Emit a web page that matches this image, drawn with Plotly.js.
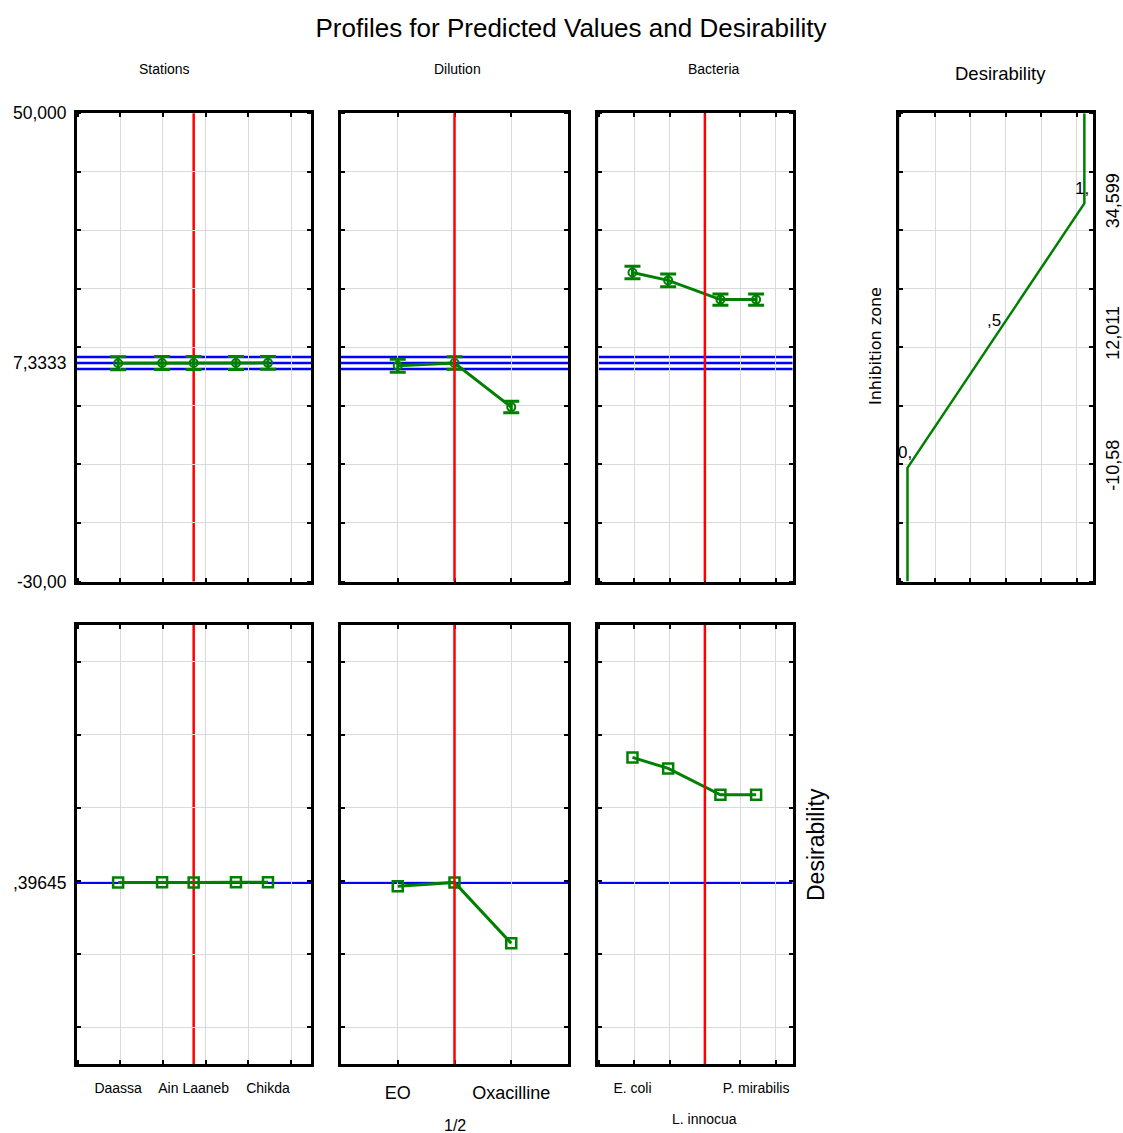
<!DOCTYPE html>
<html>
<head>
<meta charset="utf-8">
<script src="https://cdn.plot.ly/plotly-3.0.1.min.js"></script>
<style>html,body{margin:0;padding:0;background:#fff;}#chart{width:1123px;height:1133px;}</style>
</head>
<body>
<div id="chart"></div>
<script>
// ---------------- DATA ----------------
const stationX      = [0.95, 1.98, 2.72, 3.71, 4.46];
const stationLabelX = [0.95, 2.72, 4.46];
const stationLabels = ['Daassa', 'Ain Laaneb', 'Chikda'];
const stationPred   = [7.30, 7.34, 7.3333, 7.33, 7.36];
const stationErr    = [1.10, 1.10, 1.10, 1.10, 1.10];
const stationDes    = [0.396, 0.397, 0.39645, 0.3965, 0.397];
const stationCurrent = 2.72;

const dilutionX      = [1, 2, 3];
const dilutionLabels = ['EO', '', 'Oxacilline'];
const dilutionRow2   = ['1/2'];
const dilutionRow2X  = [2];
const dilutionPred   = [6.86, 7.3333, -0.20];
const dilutionErr    = [1.12, 1.08, 0.98];
const dilutionDes    = [0.386, 0.39645, 0.230];
const dilutionCurrent = 2;

const bacteriaX      = [0.95, 1.96, 3.44, 4.45];
const bacteriaLabelX = [0.95, 4.45];
const bacteriaLabels = ['E. coli', 'P. mirabilis'];
const bacteriaRow2   = ['L. innocua'];
const bacteriaRow2X  = [3.0];
const bacteriaPred   = [22.80, 21.45, 18.17, 18.17];
const bacteriaErr    = [1.05, 1.10, 0.95, 0.95];
const bacteriaDes    = [0.738, 0.708, 0.636, 0.636];
const bacteriaCurrent = 3.0;

const meanInhib = 7.3333;
const ciLow     = 6.29;
const ciHigh    = 8.37;
const meanDes   = 0.39645;

const inhibTickVals = [-30, 7.3333, 50];
const inhibTickText = ['-30,00', '7,3333', '50,000'];
const desTickVals   = [0.39645];
const desTickText   = [',39645'];

// desirability function: inhibition zone -> desirability
const desFnInhib = [-30, -10.58, 12.011, 34.599, 50];
const desFnValue = [0, 0, 0.5, 1, 1];
const desFnTickVals = [-10.58, 12.011, 34.599];
const desFnTickText = ['-10,58', '12,011', '34,599'];
const desFnLabelInhib = [-10.58, 12.011, 34.599];
const desFnLabelValue = [0, 0.5, 1];
const desFnLabelText  = ['0,', ',5', '1,'];

// ---------------- LAYOUT HELPERS ----------------
const W = 1123, H = 1133;
const fx = p => p / W;
const fy = p => 1 - p / H;
const FN = "'Liberation Sans', Arial, sans-serif";
const FR = "'Liberation Sans', Arial, sans-serif";
const GREEN = '#008000', BLUE = '#0000ff', RED = '#ff0000', GRID = '#dadada';

const colX = [[77, 311], [341, 568], [597.5, 792.5], [898.5, 1092.5]];
const rowTop = [fy(581.5), fy(113.3)];
const rowBot = [fy(1064), fy(625)];

function baseAxis(dom, range) {
  return {
    domain: [fx(dom[0]), fx(dom[1])], range: range, autorange: false, fixedrange: true,
    showline: true, linecolor: '#000', linewidth: 3, mirror: 'allticks',
    zeroline: false, showgrid: false, ticks: '',
    tickfont: {family: FN, size: 14, color: '#000'}
  };
}
function minorGrid(tick0, dtick) {
  return {tick0: tick0, dtick: dtick, showgrid: true, gridcolor: GRID, gridwidth: 1,
          ticks: 'inside', ticklen: 4, tickwidth: 2, tickcolor: '#000'};
}
const stRange = [-0.013, 5.468];
const baRange = [-0.04, 5.48];
const diRange = [0, 4];
const inhRange = [-30, 50];
const desRange = [-0.1, 1.1];

function stationX_axis(dom, labels) {
  return Object.assign(baseAxis(dom, stRange), {
    tickmode: 'array', tickvals: stationLabelX, ticktext: stationLabels,
    showticklabels: labels, ticklabelstandoff: 9,
    tickfont: {family: FN, size: 14, color: '#000'},
    minor: minorGrid(0, 1)
  });
}
function bacteriaX_axis(dom, labels) {
  return Object.assign(baseAxis(dom, baRange), {
    tickmode: 'array', tickvals: bacteriaLabelX, ticktext: bacteriaLabels,
    showticklabels: labels, ticklabelstandoff: 9,
    tickfont: {family: FN, size: 14, color: '#000'},
    minor: minorGrid(0, 1)
  });
}
function dilutionX_axis(dom, labels) {
  return Object.assign(baseAxis(dom, diRange), {
    tickmode: 'array', tickvals: dilutionX, ticktext: dilutionLabels,
    showticklabels: labels, showgrid: true, gridcolor: GRID, gridwidth: 1,
    ticks: 'inside', ticklen: 4, tickwidth: 2, tickcolor: '#000',
    ticklabelstandoff: 10, tickfont: {family: FN, size: 18, color: '#000'}
  });
}
function inhibY(anchor, labels) {
  return Object.assign(baseAxis([0, 0], inhRange), {
    domain: rowTop, anchor: anchor,
    tickmode: 'array', tickvals: inhibTickVals, ticktext: inhibTickText,
    showticklabels: labels, ticklabelstandoff: 4,
    tickfont: {family: FN, size: 17.5, color: '#000'},
    minor: minorGrid(0, 10)
  });
}
function desY(anchor, labels) {
  return Object.assign(baseAxis([0, 0], desRange), {
    domain: rowBot, anchor: anchor,
    tickmode: 'array', tickvals: desTickVals, ticktext: desTickText,
    showticklabels: labels, ticklabelstandoff: 4,
    tickfont: {family: FN, size: 17.5, color: '#000'},
    minor: minorGrid(0, 0.2)
  });
}

const layout = {
  width: W, height: H,
  margin: {l: 0, r: 0, t: 0, b: 0, pad: 0},
  paper_bgcolor: '#fff', plot_bgcolor: '#fff',
  showlegend: false,
  title: {text: 'Profiles for Predicted Values and Desirability',
          x: fx(571), y: fy(28), xref: 'paper', yref: 'container',
          xanchor: 'center', yanchor: 'middle',
          font: {family: FN, size: 26, color: '#000'}},
  xaxis:  Object.assign(stationX_axis(colX[0], false), {anchor: 'y'}),
  yaxis:  inhibY('x', true),
  xaxis2: Object.assign(dilutionX_axis(colX[1], false), {anchor: 'y2'}),
  yaxis2: inhibY('x2', false),
  xaxis3: Object.assign(bacteriaX_axis(colX[2], false), {anchor: 'y3'}),
  yaxis3: inhibY('x3', false),
  xaxis4: Object.assign(stationX_axis(colX[0], true), {anchor: 'y4'}),
  yaxis4: desY('x4', true),
  xaxis5: Object.assign(dilutionX_axis(colX[1], true), {anchor: 'y5'}),
  yaxis5: desY('x5', false),
  xaxis6: Object.assign(bacteriaX_axis(colX[2], true), {anchor: 'y6'}),
  yaxis6: desY('x6', false),
  xaxis7: Object.assign(baseAxis(colX[3], [-0.0508, 1.046]), {
    anchor: 'y7', tickmode: 'linear', tick0: 0.156, dtick: 0.2, showticklabels: false,
    showgrid: true, gridcolor: GRID, ticks: 'inside', ticklen: 4, tickwidth: 2, tickcolor: '#000'
  }),
  yaxis7: Object.assign(baseAxis([0, 0], inhRange), {
    domain: rowTop, anchor: 'x7', side: 'right',
    tickmode: 'array', tickvals: desFnTickVals, ticktext: desFnTickText,
    tickangle: -90, ticklabelstandoff: 2,
    tickfont: {family: FR, size: 18, color: '#000'},
    minor: minorGrid(0, 10)
  }),
  shapes: [],
  annotations: []
};

// mean and confidence lines (beneath the traces)
[['x', 'y'], ['x2', 'y2'], ['x3', 'y3']].forEach(([xa, ya]) => {
  [ciHigh, meanInhib, ciLow].forEach(v => {
    layout.shapes.push({type: 'line', layer: 'below', xref: xa + ' domain', yref: ya,
      x0: 0, x1: 1, y0: v, y1: v, line: {color: BLUE, width: 2.5}});
  });
});
[['x4', 'y4'], ['x5', 'y5'], ['x6', 'y6']].forEach(([xa, ya]) => {
  layout.shapes.push({type: 'line', layer: 'below', xref: xa + ' domain', yref: ya,
    x0: 0, x1: 1, y0: meanDes, y1: meanDes, line: {color: BLUE, width: 3}});
});
// current-level red lines (above the grid where they coincide with a grid line)
[['x', 'y', stationCurrent, 'below'], ['x2', 'y2', dilutionCurrent, 'above'], ['x3', 'y3', bacteriaCurrent, 'above'],
 ['x4', 'y4', stationCurrent, 'below'], ['x5', 'y5', dilutionCurrent, 'above'], ['x6', 'y6', bacteriaCurrent, 'above']]
.forEach(([xa, ya, v, lay]) => {
  layout.shapes.push({type: 'line', layer: lay, xref: xa, yref: ya + ' domain',
    x0: v, x1: v, y0: 0, y1: 1, line: {color: RED, width: 2.5}});
});

// annotations (headers, second-row labels, vertical titles)
function ann(text, x, y, size, family, extra) {
  layout.annotations.push(Object.assign({text: text, xref: 'paper', yref: 'paper',
    x: fx(x), y: fy(y), xanchor: 'center', yanchor: 'middle', showarrow: false,
    font: {family: family || FN, size: size, color: '#000'}}, extra || {}));
}
ann('Stations', 164, 69, 14);
ann('Dilution', 457, 69, 14);
ann('Bacteria', 714, 69, 14);
ann('Desirability', 1000, 73, 18.5);
dilutionRow2.forEach((t, i) => layout.annotations.push({text: t, xref: 'x5', yref: 'paper',
  x: dilutionRow2X[i], y: fy(1125), xanchor: 'center', yanchor: 'middle', showarrow: false,
  font: {family: FN, size: 16, color: '#000'}}));
bacteriaRow2.forEach((t, i) => layout.annotations.push({text: t, xref: 'x6', yref: 'paper',
  x: bacteriaRow2X[i], y: fy(1119), xanchor: 'center', yanchor: 'middle', showarrow: false,
  font: {family: FN, size: 14, color: '#000'}}));
ann('Inhibition zone', 876, 346, 16, "'DejaVu Sans', sans-serif", {textangle: -90});
ann('Desirability', 816, 845, 23, FR, {textangle: -90});
desFnLabelText.forEach((t, i) => layout.annotations.push({text: t, xref: 'x7', yref: 'y7',
  x: desFnLabelValue[i], y: desFnLabelInhib[i], xanchor: 'center', yanchor: 'middle',
  xshift: -2, yshift: 15, showarrow: false, font: {family: FN, size: 17, color: '#000'}}));

// ---------------- TRACES ----------------
function predTrace(x, y, err, xa, ya) {
  return {type: 'scatter', mode: 'lines+markers', x: x, y: y, xaxis: xa, yaxis: ya,
    line: {color: GREEN, width: 3},
    marker: {symbol: 'circle-open', size: 8, color: GREEN, line: {color: GREEN, width: 2}},
    error_y: {type: 'data', array: err, visible: true, color: GREEN, thickness: 3, width: 8},
    cliponaxis: false, hoverinfo: 'x+y'};
}
function desTrace(x, y, xa, ya) {
  return {type: 'scatter', mode: 'lines+markers', x: x, y: y, xaxis: xa, yaxis: ya,
    line: {color: GREEN, width: 3},
    marker: {symbol: 'square-open', size: 10, color: GREEN, line: {color: GREEN, width: 2.5}},
    hoverinfo: 'x+y'};
}
const data = [
  predTrace(stationX, stationPred, stationErr, 'x', 'y'),
  predTrace(dilutionX, dilutionPred, dilutionErr, 'x2', 'y2'),
  predTrace(bacteriaX, bacteriaPred, bacteriaErr, 'x3', 'y3'),
  desTrace(stationX, stationDes, 'x4', 'y4'),
  desTrace(dilutionX, dilutionDes, 'x5', 'y5'),
  desTrace(bacteriaX, bacteriaDes, 'x6', 'y6'),
  {type: 'scatter', mode: 'lines', x: desFnValue, y: desFnInhib, xaxis: 'x7', yaxis: 'y7',
   line: {color: GREEN, width: 2.5}, hoverinfo: 'x+y'}
];

Plotly.newPlot('chart', data, layout, {displayModeBar: false, staticPlot: true});
</script>
</body>
</html>
